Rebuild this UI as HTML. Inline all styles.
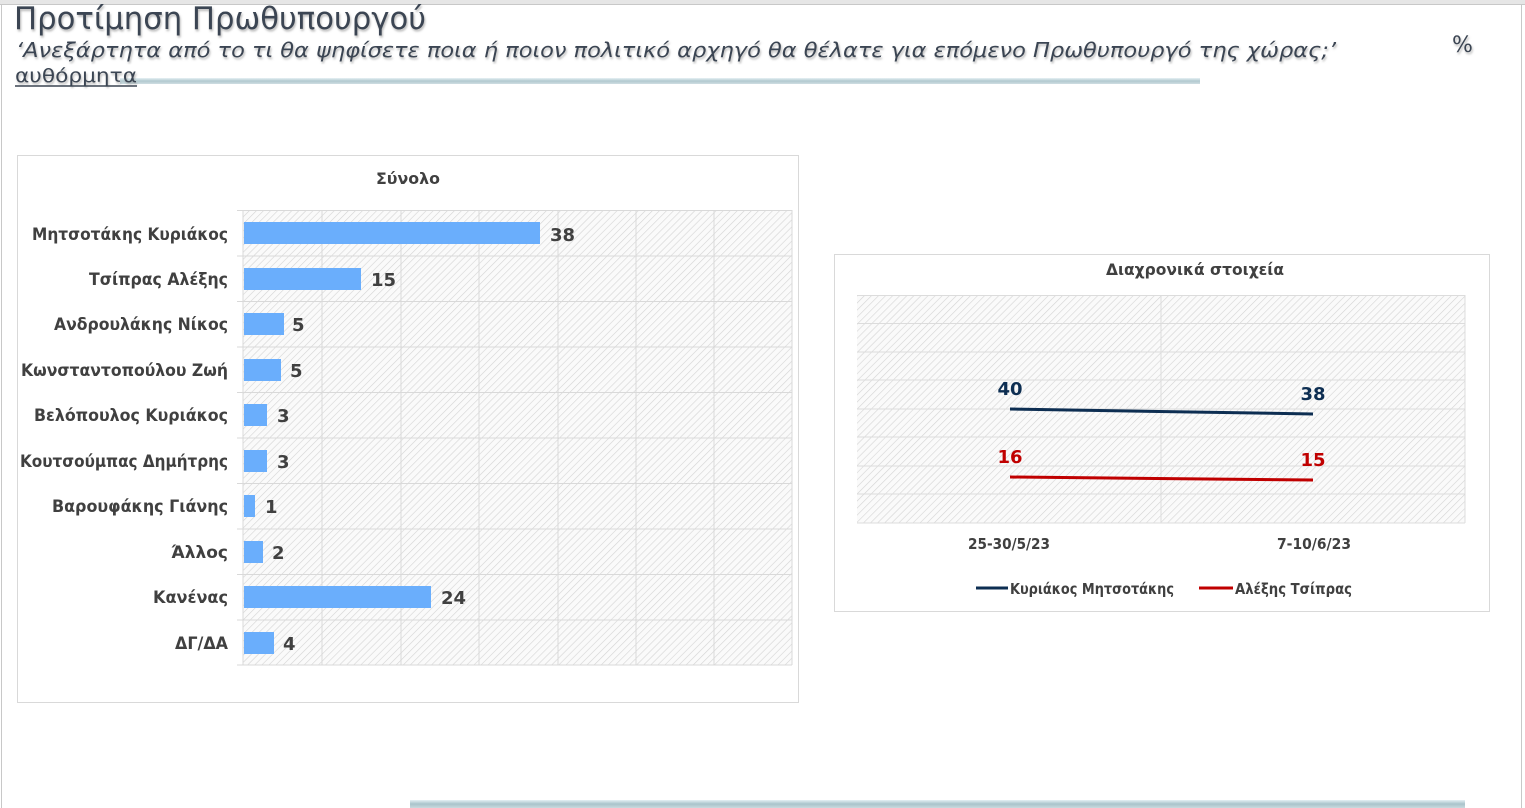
<!DOCTYPE html>
<html><head><meta charset="utf-8"><style>
html,body{margin:0;padding:0;background:#fff;}
svg{display:block;font-family:"DejaVu Sans","Liberation Sans",sans-serif;}
</style></head><body>
<svg width="1525" height="808" viewBox="0 0 1525 808" xmlns="http://www.w3.org/2000/svg">
<defs>
<pattern id="h" width="5" height="5" patternUnits="userSpaceOnUse" patternTransform="rotate(45)">
<rect width="5" height="5" fill="#fafafa"/><line x1="0" y1="0" x2="0" y2="5" stroke="#d4d4d4" stroke-width="1.2"/>
</pattern>
<linearGradient id="bl" x1="0" y1="0" x2="0" y2="1"><stop offset="0" stop-color="#e4f0f4"/><stop offset="0.5" stop-color="#a9c3ca"/><stop offset="1" stop-color="#c9dadf"/></linearGradient>
<filter id="sh"><feDropShadow dx="1" dy="2" stdDeviation="1" flood-color="#888" flood-opacity="0.6"/></filter>
</defs>
<rect x="0" y="0" width="1525" height="4" fill="#e6e6e6"/>
<line x1="0" y1="4.5" x2="1525" y2="4.5" stroke="#c8c8c8"/>
<line x1="1.5" y1="4" x2="1.5" y2="808" stroke="#c8c8c8"/>
<line x1="1521.5" y1="4" x2="1521.5" y2="808" stroke="#c8c8c8"/>
<!-- header -->
<text x="14" y="29" font-size="31" fill="#3b4552" filter="url(#sh)" textLength="412" lengthAdjust="spacingAndGlyphs">Προτίμηση Πρωθυπουργού</text>
<text x="16" y="57" font-size="20" font-style="italic" fill="#3b4552" filter="url(#sh)" textLength="1320" lengthAdjust="spacingAndGlyphs">‘Ανεξάρτητα από το τι θα ψηφίσετε ποια ή ποιον πολιτικό αρχηγό θα θέλατε για επόμενο Πρωθυπουργό της χώρας;’</text>
<text x="1452" y="52" font-size="22" fill="#3b4552" filter="url(#sh)">%</text>
<rect x="120" y="78" width="1080" height="6" fill="url(#bl)" opacity="0.9"/>
<text x="15" y="82" font-size="19" fill="#3b4552" filter="url(#sh)" textLength="122" lengthAdjust="spacingAndGlyphs">αυθόρμητα</text>
<line x1="15" y1="86" x2="137" y2="86" stroke="#3b4552" stroke-width="1.5"/>
<rect x="410" y="800" width="1055" height="8" fill="url(#bl)"/>
<!-- bar chart -->
<rect x="17.5" y="155.5" width="781" height="547" fill="#fff" stroke="#d9d9d9"/>
<text x="376" y="184" font-size="16" font-weight="bold" fill="#404040" textLength="64" lengthAdjust="spacingAndGlyphs">Σύνολο</text>
<rect x="243" y="210" width="549" height="455" fill="url(#h)"/>
<g stroke="#d9d9d9" stroke-width="1">
<line x1="322" y1="210" x2="322" y2="665"/><line x1="401" y1="210" x2="401" y2="665"/><line x1="479" y1="210" x2="479" y2="665"/><line x1="558" y1="210" x2="558" y2="665"/><line x1="636" y1="210" x2="636" y2="665"/><line x1="714" y1="210" x2="714" y2="665"/><line x1="792" y1="210" x2="792" y2="665"/>
<line x1="237" y1="210.5" x2="792" y2="210.5"/><line x1="237" y1="256" x2="792" y2="256"/><line x1="237" y1="301.5" x2="792" y2="301.5"/><line x1="237" y1="347" x2="792" y2="347"/><line x1="237" y1="392.5" x2="792" y2="392.5"/><line x1="237" y1="438" x2="792" y2="438"/><line x1="237" y1="483.5" x2="792" y2="483.5"/><line x1="237" y1="529" x2="792" y2="529"/><line x1="237" y1="574.5" x2="792" y2="574.5"/><line x1="237" y1="620" x2="792" y2="620"/><line x1="237" y1="665" x2="792" y2="665"/>
<line x1="243" y1="210" x2="243" y2="665"/>
</g>
<g fill="#6aaefc">
<rect x="244" y="222" width="296" height="22"/>
<rect x="244" y="268" width="117" height="22"/>
<rect x="244" y="313" width="40" height="22"/>
<rect x="244" y="359" width="37" height="22"/>
<rect x="244" y="404" width="23" height="22"/>
<rect x="244" y="450" width="23" height="22"/>
<rect x="244" y="495" width="11" height="22"/>
<rect x="244" y="541" width="19" height="22"/>
<rect x="244" y="586" width="187" height="22"/>
<rect x="244" y="632" width="30" height="22"/>
</g>
<g font-size="18" font-weight="bold" fill="#404040">
<text x="550" y="241">38</text><text x="371" y="286">15</text><text x="292" y="331">5</text><text x="290" y="377">5</text><text x="277" y="422">3</text><text x="277" y="468">3</text><text x="265" y="513">1</text><text x="272" y="559">2</text><text x="441" y="604">24</text><text x="283" y="650">4</text>
</g>
<g font-size="17" font-weight="bold" fill="#404040">
<text x="32" y="240" textLength="196" lengthAdjust="spacingAndGlyphs">Μητσοτάκης Κυριάκος</text>
<text x="89" y="285" textLength="139" lengthAdjust="spacingAndGlyphs">Τσίπρας Αλέξης</text>
<text x="54" y="330" textLength="174" lengthAdjust="spacingAndGlyphs">Ανδρουλάκης Νίκος</text>
<text x="21" y="376" textLength="207" lengthAdjust="spacingAndGlyphs">Κωνσταντοπούλου Ζωή</text>
<text x="34" y="421" textLength="194" lengthAdjust="spacingAndGlyphs">Βελόπουλος Κυριάκος</text>
<text x="20" y="467" textLength="208" lengthAdjust="spacingAndGlyphs">Κουτσούμπας Δημήτρης</text>
<text x="52" y="512" textLength="176" lengthAdjust="spacingAndGlyphs">Βαρουφάκης Γιάνης</text>
<text x="228" y="558" text-anchor="end">Άλλος</text>
<text x="153" y="603" textLength="75" lengthAdjust="spacingAndGlyphs">Κανένας</text>
<text x="175" y="649" textLength="53" lengthAdjust="spacingAndGlyphs">ΔΓ/ΔΑ</text>
</g>
<!-- line chart -->
<rect x="834.5" y="254.5" width="655" height="357" fill="#fff" stroke="#d9d9d9"/>
<text x="1106" y="275" font-size="16" font-weight="bold" fill="#404040" textLength="178" lengthAdjust="spacingAndGlyphs">Διαχρονικά στοιχεία</text>
<rect x="857" y="295" width="608" height="228" fill="url(#h)"/>
<g stroke="#dcdcdc">
<line x1="857" y1="295.5" x2="1465" y2="295.5"/><line x1="857" y1="323.5" x2="1465" y2="323.5"/><line x1="857" y1="352" x2="1465" y2="352"/><line x1="857" y1="380" x2="1465" y2="380"/><line x1="857" y1="409" x2="1465" y2="409"/><line x1="857" y1="437" x2="1465" y2="437"/><line x1="857" y1="466" x2="1465" y2="466"/><line x1="857" y1="494" x2="1465" y2="494"/><line x1="857" y1="523" x2="1465" y2="523"/>
<line x1="1161" y1="295" x2="1161" y2="523"/><line x1="1465" y1="295" x2="1465" y2="523"/>
</g>
<line x1="1010" y1="409" x2="1313" y2="414" stroke="#0d2e52" stroke-width="3"/>
<line x1="1010" y1="477" x2="1313" y2="480" stroke="#c00000" stroke-width="3"/>
<g font-size="18" font-weight="bold" text-anchor="middle">
<text x="1010" y="395" fill="#0d2e52">40</text><text x="1313" y="400" fill="#0d2e52">38</text>
<text x="1010" y="463" fill="#c00000">16</text><text x="1313" y="466" fill="#c00000">15</text>
</g>
<g font-size="15" font-weight="bold" fill="#404040">
<text x="968" y="549" textLength="82" lengthAdjust="spacingAndGlyphs">25-30/5/23</text><text x="1277" y="549" textLength="74" lengthAdjust="spacingAndGlyphs">7-10/6/23</text>
</g>
<line x1="976" y1="588" x2="1008" y2="588" stroke="#0d2e52" stroke-width="3"/>
<line x1="1199" y1="588" x2="1233" y2="588" stroke="#c00000" stroke-width="3"/>
<g font-size="15" font-weight="bold" fill="#404040">
<text x="1010" y="594" textLength="164" lengthAdjust="spacingAndGlyphs">Κυριάκος Μητσοτάκης</text><text x="1235" y="594" textLength="117" lengthAdjust="spacingAndGlyphs">Αλέξης Τσίπρας</text>
</g>
</svg>
</body></html>
